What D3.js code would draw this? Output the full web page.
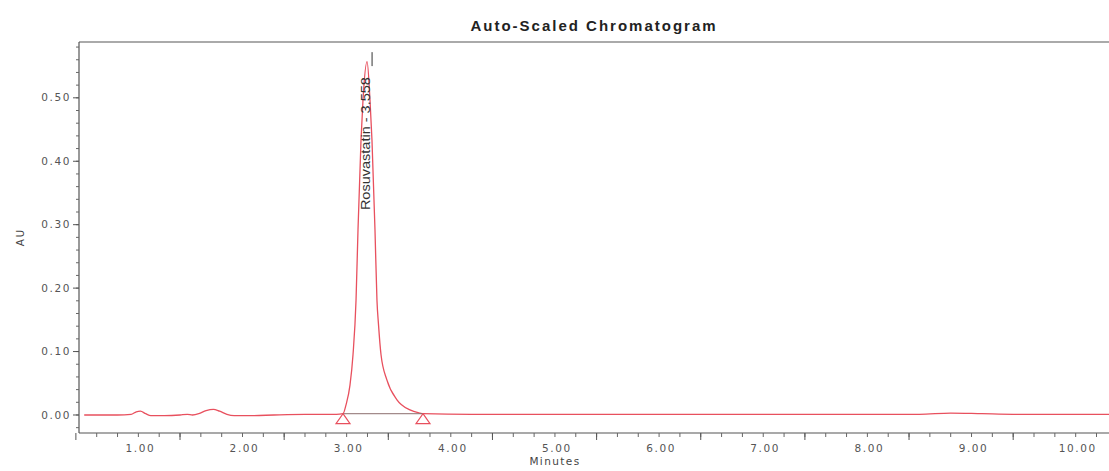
<!DOCTYPE html>
<html>
<head>
<meta charset="utf-8">
<script src="https://cdn.jsdelivr.net/npm/d3@7"></script>
<style>
  body { margin: 0; background: #fff; }
  .tick-label { font-family: "DejaVu Sans", sans-serif; font-size: 10.5px; fill: #555; letter-spacing: 1.6px; }
  .axis-title { font-family: "DejaVu Sans", sans-serif; font-size: 10.5px; fill: #444; letter-spacing: 1.4px; }
</style>
</head>
<body>
<div id="chart"></div>
<script>
// chromatogram trace, minutes vs AU
var traceTime = [0.48, 0.80, 0.93, 0.98, 1.02, 1.07, 1.12, 1.25, 1.40, 1.47, 1.52, 1.58, 1.65, 1.72, 1.78, 1.85, 1.92, 2.10, 2.30, 2.60, 2.90,
    2.965, 2.994, 3.032, 3.061, 3.090, 3.109, 3.138, 3.157, 3.196,
    3.224, 3.243, 3.272, 3.291, 3.306, 3.330, 3.387, 3.483, 3.608, 3.704, 3.733,
    4.2, 5.0, 6.0, 7.0, 8.0, 8.5, 8.8, 9.1, 9.4, 10.32];
var traceAU = [0.000, 0.000, 0.001, 0.005, 0.006, 0.002, -0.001, -0.001, 0.000, 0.001, 0.000, 0.002, 0.007, 0.009, 0.006, 0.001, -0.001, -0.001, 0.000, 0.001, 0.001,
    0.002, 0.016, 0.047, 0.095, 0.181, 0.292, 0.434, 0.497, 0.557,
    0.497, 0.434, 0.292, 0.181, 0.142, 0.095, 0.055, 0.024, 0.008, 0.003, 0.002,
    0.001, 0.001, 0.001, 0.001, 0.001, 0.001, 0.003, 0.002, 0.001, 0.001];

// integration start / end of the peak
var peakName = "Rosuvastatin";
var peakLabel = "3.558";
var peakApex = [3.196, 0.557];
var peakStart = [2.965, 0.002];
var peakEnd = [3.733, 0.002];

var xTickLabels = ["1.00", "2.00", "3.00", "4.00", "5.00", "6.00", "7.00", "8.00", "9.00", "10.00"];
var yTickLabels = ["0.00", "0.10", "0.20", "0.30", "0.40", "0.50"];

var width = 1109, height = 471;
var margin = {top: 42, right: 0, bottom: 38, left: 79};

var svg = d3.select("#chart").append("svg")
    .attr("width", width)
    .attr("height", height)
    .style("background", "#fff");

var x = d3.scaleLinear().domain([0.43, 10.32]).range([margin.left, width - margin.right]);
var y = d3.scaleLinear().domain([-0.0284, 0.588]).range([height - margin.bottom, margin.top]);

// title
svg.append("text")
    .attr("x", (margin.left + width) / 2)
    .attr("y", 31)
    .attr("text-anchor", "middle")
    .style("font-family", "Liberation Sans, Arial, sans-serif")
    .style("font-weight", "bold")
    .style("font-size", "15px")
    .style("letter-spacing", "2px")
    .style("fill", "#222")
    .text("Auto-Scaled Chromatogram");

// top frame line
svg.append("line")
    .attr("x1", margin.left).attr("x2", width)
    .attr("y1", margin.top).attr("y2", margin.top)
    .attr("stroke", "#aaa").attr("stroke-width", 2);

// y axis with minor ticks every 0.02
var yMinor = d3.range(-0.02, 0.5801, 0.02).map(function(v) { return +v.toFixed(2); });
var yAxisG = svg.append("g").attr("transform", "translate(" + margin.left + ",0)");
yAxisG.append("line")
    .attr("x1", 0).attr("x2", 0)
    .attr("y1", margin.top).attr("y2", height - margin.bottom)
    .attr("stroke", "#555").attr("stroke-width", 1.2);
yAxisG.selectAll(".yminor").data(yMinor).enter().append("line")
    .attr("x1", -3).attr("x2", 0)
    .attr("y1", function(d) { return y(d); })
    .attr("y2", function(d) { return y(d); })
    .attr("stroke", "#666");
yAxisG.selectAll(".ymajor").data(yTickLabels).enter().append("line")
    .attr("x1", -6).attr("x2", 0)
    .attr("y1", function(d) { return y(+d); })
    .attr("y2", function(d) { return y(+d); })
    .attr("stroke", "#555");
yAxisG.selectAll(".ylab").data(yTickLabels).enter().append("text")
    .attr("class", "tick-label")
    .attr("x", -8)
    .attr("y", function(d) { return y(+d); })
    .attr("dy", "0.35em")
    .attr("text-anchor", "end")
    .text(function(d) { return d; });

svg.append("text")
    .attr("class", "axis-title")
    .attr("transform", "translate(24," + y(0.28) + ") rotate(-90)")
    .attr("text-anchor", "middle")
    .text("AU");

// x axis: minor ticks every 0.2, longer ones every minute from 0.4
var xMinor = d3.range(0.6, 10.31, 0.2).map(function(v) { return +v.toFixed(1); });
var xMajor = d3.range(0.4, 10.31, 1).map(function(v) { return +v.toFixed(1); });
var xAxisG = svg.append("g").attr("transform", "translate(0," + (height - margin.bottom) + ")");
xAxisG.append("line")
    .attr("x1", margin.left).attr("x2", width)
    .attr("y1", 0).attr("y2", 0)
    .attr("stroke", "#555").attr("stroke-width", 1.2);
xAxisG.selectAll(".xminor").data(xMinor).enter().append("line")
    .attr("x1", function(d) { return x(d); })
    .attr("x2", function(d) { return x(d); })
    .attr("y1", 0).attr("y2", 4)
    .attr("stroke", "#666");
xAxisG.selectAll(".xmajor").data(xMajor).enter().append("line")
    .attr("x1", function(d) { return x(d); })
    .attr("x2", function(d) { return x(d); })
    .attr("y1", 0).attr("y2", 7)
    .attr("stroke", "#555");
xAxisG.selectAll(".xlab").data(xTickLabels).enter().append("text")
    .attr("class", "tick-label")
    .attr("x", function(d) { return x(+d) + 2; })
    .attr("y", 19)
    .attr("text-anchor", "middle")
    .text(function(d) { return d; });

svg.append("text")
    .attr("class", "axis-title")
    .attr("x", x(5.0))
    .attr("y", 465)
    .attr("text-anchor", "middle")
    .text("Minutes");

// trace
var trace = traceTime.map(function(t, i) { return [t, traceAU[i]]; });
var line = d3.line()
    .x(function(d) { return x(d[0]); })
    .y(function(d) { return y(d[1]); })
    .curve(d3.curveMonotoneX);

svg.append("path")
    .datum(trace)
    .attr("d", line)
    .attr("fill", "none")
    .attr("stroke", "#e8505e")
    .attr("stroke-width", 1.3);

// integration baseline
svg.append("line")
    .attr("x1", x(peakStart[0])).attr("y1", y(peakStart[1]))
    .attr("x2", x(peakEnd[0])).attr("y2", y(peakEnd[1]))
    .attr("stroke", "#8c6e6e").attr("stroke-width", 1);

// start/end markers
svg.selectAll(".marker").data([peakStart, peakEnd]).enter().append("path")
    .attr("d", function(d) {
        var cx = x(d[0]), cy = y(d[1]);
        return "M" + cx + "," + cy + "L" + (cx + 7) + "," + (cy + 10) + "L" + (cx - 7) + "," + (cy + 10) + "Z";
    })
    .attr("fill", "none")
    .attr("stroke", "#e8505e")
    .attr("stroke-width", 1.2);

// apex tick and peak label
svg.append("line")
    .attr("x1", x(peakApex[0]) + 5).attr("x2", x(peakApex[0]) + 5)
    .attr("y1", y(0.572)).attr("y2", y(0.550))
    .attr("stroke", "#333").attr("stroke-width", 1);

svg.append("text")
    .attr("transform", "translate(" + (x(peakApex[0]) + 3) + "," + y(0.323) + ") rotate(-90)")
    .attr("text-anchor", "start")
    .attr("textLength", 133)
    .attr("lengthAdjust", "spacingAndGlyphs")
    .style("font-family", "Liberation Sans Narrow, Arial Narrow, sans-serif")
    .style("font-size", "13.5px")
    .style("fill", "#333")
    .text(peakName + " - " + peakLabel);
</script>
</body>
</html>
